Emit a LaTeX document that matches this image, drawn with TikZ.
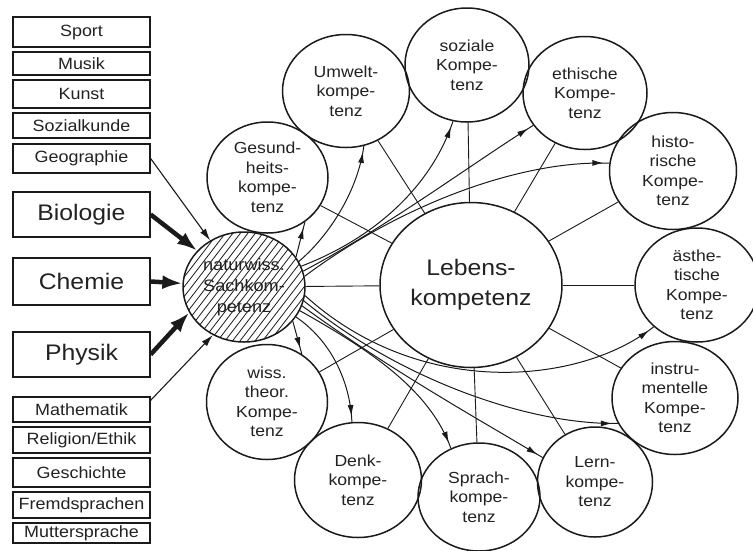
\documentclass[tikz,border=0pt]{standalone}
\usepackage{fontspec}
\setmainfont{Liberation Sans}[FakeStretch=1.1]
\usetikzlibrary{arrows.meta,shapes.geometric,decorations.markings}
\definecolor{lc}{HTML}{1A1A1A}
\definecolor{tc}{HTML}{222222}
\begin{document}
\begin{tikzpicture}[x=1pt,y=-1pt,
 comp/.style={ellipse, draw=lc, line width=1.5pt, inner sep=0pt, align=center, text=tc, font=\fontsize{16}{19.5}\selectfont},
 subj/.style={rectangle, draw=lc, line width=1.3pt, minimum width=137pt, inner sep=0pt, text=tc, font=\fontsize{16.3}{18}\selectfont},
 bigsubj/.style={subj, font=\fontsize{22.5}{26}\selectfont},
 link/.style={draw=lc, line width=0.9pt},
 hatchline/.style={draw=lc, line width=0.8pt},
 outarr/.style={draw=lc, line width=1pt, postaction={decorate},
   decoration={markings, mark=at position -6pt with {\arrow{Latex[length=11pt,width=6pt]}}}},
 inarr/.style={draw=lc, line width=1.1pt, -{Latex[length=12pt,width=7pt]}},
 thickarr/.style={draw=lc, line width=4.5pt, -{Latex[length=20pt,width=14pt]}}
]
\useasboundingbox[fill=white] (0,0) rectangle (753,550);

% subject boxes
\node[subj, minimum height=30pt] (sport) at (81.5,32) {Sport};
\node[subj, minimum height=23pt] (musik) at (81.5,63.5) {Musik};
\node[subj, minimum height=28pt] (kunst) at (81.5,94) {Kunst};
\node[subj, minimum height=25pt] (sozial) at (81.5,125.5) {Sozialkunde};
\node[subj, minimum height=29pt] (geo) at (81.5,158.5) {Geographie};
\node[bigsubj, minimum height=45pt] (bio) at (81.5,214.5) {Biologie};
\node[bigsubj, minimum height=47pt] (chem) at (81.5,281.5) {Chemie};
\node[bigsubj, minimum height=45pt] (phys) at (81.5,354.5) {Physik};
\node[subj, minimum height=25pt] (math) at (81.5,409.5) {Mathematik};
\node[subj, minimum height=26pt] (rel) at (81.5,440) {Religion/Ethik};
\node[subj, minimum height=29pt] (gesch) at (81.5,472.5) {Geschichte};
\node[subj, minimum height=26pt] (fremd) at (81.5,505) {Fremdsprachen};
\node[subj, minimum height=20pt] (mutter) at (81.5,533) {Muttersprache};

% hatching of the central subject circle
\begin{scope}
 \clip (244,287) ellipse [x radius=61, y radius=55];
 \foreach \k in {-24,...,24} {\draw[hatchline] ({244+7.5*\k-80},391) -- ({244+7.5*\k+80},183);}
\end{scope}
\node[comp, minimum width=122pt, minimum height=110pt, font=\fontsize{16.5}{21}\selectfont] (nat) at (244,287) {naturwiss.\\Sachkom-\\petenz};

% Lebenskompetenz
\node[comp, minimum width=182pt, minimum height=165pt, font=\fontsize{22.5}{30}\selectfont] (L) at (471,285) {Lebens-\\kompetenz};

% competence circles
\node[comp, minimum width=121pt, minimum height=111pt] (g) at (267.5,177.5) {Gesund-\\heits-\\kompe-\\tenz};
\node[comp, minimum width=127pt, minimum height=113pt] (u) at (346,91) {Umwelt-\\kompe-\\tenz};
\node[comp, minimum width=124pt, minimum height=114pt] (s) at (467,65) {soziale\\Kompe-\\tenz};
\node[comp, minimum width=124pt, minimum height=113pt] (e) at (585,93) {ethische\\Kompe-\\tenz};
\node[comp, minimum width=127pt, minimum height=117pt] (h) at (673,171) {histo-\\rische\\Kompe-\\tenz};
\node[comp, minimum width=124pt, minimum height=114pt] (a) at (697,285) {ästhe-\\tische\\Kompe-\\tenz};
\node[comp, minimum width=126pt, minimum height=113pt] (i) at (675,398) {instru-\\mentelle\\Kompe-\\tenz};
\node[comp, minimum width=115pt, minimum height=110pt] (l) at (595,482) {Lern-\\kompe-\\tenz};
\node[comp, minimum width=122pt, minimum height=108pt] (sp) at (479,497) {Sprach-\\kompe-\\tenz};
\node[comp, minimum width=127pt, minimum height=115pt] (d) at (358,480) {Denk-\\kompe-\\tenz};
\node[comp, minimum width=121pt, minimum height=115pt] (w) at (267,402) {wiss.\\theor.\\Kompe-\\tenz};

% inputs
\draw[inarr] (geo.east) -- (nat);
\draw[thickarr] (bio.east) -- (nat);
\draw[thickarr] (chem.east) -- (nat);
\draw[thickarr] (phys.east) -- (nat.205);
\draw[inarr] ([yshift=-4pt]math.north east) -- (nat.237);

% links to Lebenskompetenz
\foreach \n in {nat,g,u,s,e,h,a,i,l,sp,d,w} {\draw[link] (\n) -- (L);}

% outputs of naturwiss. Sachkompetenz
\draw[outarr] (nat.30) -- (g.310);
\draw[outarr] (nat.25) .. controls (330,235) and (358,190) .. (u.288);
\draw[outarr] (nat.20) .. controls (370,240) and (430,190) .. (s.256);
\draw[outarr] (nat.15) .. controls (390,225) and (470,165) .. (e.212);
\draw[outarr] (nat.10) .. controls (400,205) and (520,160) .. (h.173);
\draw[outarr] (nat.-8) .. controls (420,400) and (580,385) .. (a.224);
\draw[outarr] (nat.-13) .. controls (400,380) and (530,425) .. (i.204);
\draw[outarr] (nat.-18) .. controls (390,370) and (480,420) .. (l.155);
\draw[outarr] (nat.-23) .. controls (370,350) and (430,390) .. (sp.120);
\draw[outarr] (nat.-30) .. controls (330,340) and (350,380) .. (d.96);
\draw[outarr] (nat.-35) -- (w.54);
\end{tikzpicture}
\end{document}
